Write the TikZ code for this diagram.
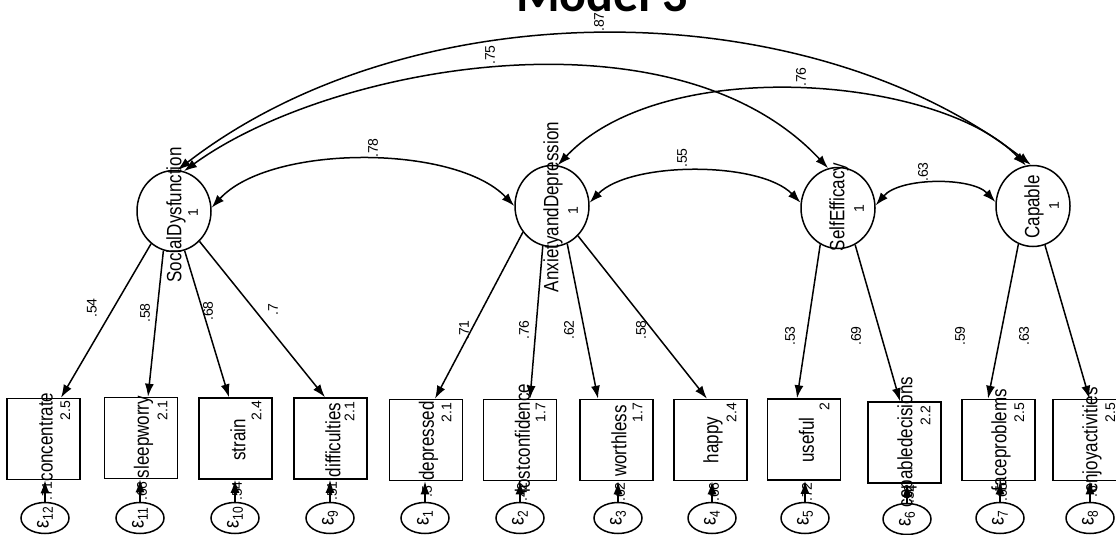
\documentclass[tikz,border=0pt]{standalone}
\usepackage{fontspec}
\usepackage{graphicx}
\setmainfont{Liberation Sans}
\newfontfamily\titlefont{Carlito}
\usetikzlibrary{arrows.meta,shapes.geometric}

\newcommand{\stt}[1]{\scalebox{1}[1.22]{#1}}
\newcommand{\epsl}[1]{\rotatebox{90}{\scalebox{1}[1.2]{\fontsize{18}{18}\selectfont ε\raisebox{-3.5pt}{\fontsize{12}{12}\selectfont #1}}}}

\tikzset{
 lat/.style={draw, ellipse, minimum width=74pt, minimum height=81pt, inner sep=0pt},
 obs/.style={draw, rectangle, minimum width=73pt, minimum height=81pt, inner sep=0pt},
 err/.style={draw, ellipse, minimum width=48pt, minimum height=31pt, inner sep=0pt},
 lbl/.style={rotate=90, inner sep=0pt, font=\fontsize{17}{17}\selectfont},
 num/.style={rotate=90, inner sep=0pt, font=\fontsize{14}{14}\selectfont},
 coef/.style={rotate=90, inner sep=0pt, font=\fontsize{14}{14}\selectfont},
 load/.style={-{Latex[length=13pt,width=9pt]}},
 cov/.style={{Latex[length=13pt,width=9pt]}-{Latex[length=13pt,width=9pt]}},
}

\begin{document}
\begin{tikzpicture}[x=1pt,y=-1pt,line width=1.5pt]
\useasboundingbox (0,0) rectangle (1116,535);
\clip (0,0) rectangle (1116,535);

% title
\node[font=\titlefont\bfseries\fontsize{50}{50}\selectfont, anchor=base, inner sep=0pt] (title) at (602,12) {Model 3};

% latent variables
\node[lat] (SD) at (174,211) {};
\node[lat] (AD) at (552,206) {};
\node[lat] (SE) at (838,208) {};
\node[lat] (CP) at (1033,206) {};

\node[lbl] (SDl) at (176,215) {\stt{SocialDysfunction}};
\node[num] (SDv) at (193,213) {1};
\node[lbl] (ADl) at (553,207) {\stt{AnxietyandDepression}};
\node[num] (ADv) at (573,211) {1};
\node[lbl] (SEl) at (839,207) {\stt{SelfEfficacy}};
\node[num] (SEv) at (859,209) {1};
\node[lbl] (CPl) at (1034,207) {\stt{Capable}};
\node[num] (CPv) at (1054,206) {1};

% observed variables
\node[obs] (o1) at (43.5,439) {};
\node[obs] (o2) at (141,438) {};
\node[obs] (o3) at (235.5,438.5) {};
\node[obs] (o4) at (330.5,438.5) {};
\node[obs] (o5) at (426,440) {};
\node[obs] (o6) at (520,440) {};
\node[obs] (o7) at (616.5,440) {};
\node[obs] (o8) at (710.5,440) {};
\node[obs] (o9) at (804,439.5) {};
\node[obs] (o10) at (904.5,442.5) {};
\node[obs] (o11) at (998.5,440) {};
\node[obs] (o12) at (1089.5,440) {};

\node[lbl] (o1l) at (46,437) {\stt{concentrate}};
\node[lbl] (o2l) at (143.5,437) {\stt{sleepworry}};
\node[lbl] (o3l) at (238,440) {\stt{strain}};
\node[lbl] (o4l) at (333,440) {\stt{difficulties}};
\node[lbl] (o5l) at (428.5,441) {\stt{depressed}};
\node[lbl] (o6l) at (522.5,438) {\stt{lostconfidence}};
\node[lbl] (o7l) at (619,441) {\stt{worthless}};
\node[lbl] (o8l) at (713,440) {\stt{happy}};
\node[lbl] (o9l) at (806.5,440) {\stt{useful}};
\node[lbl] (o10l) at (907,442) {\stt{capabledecisions}};
\node[lbl] (o11l) at (1001,440) {\stt{faceproblems}};
\node[lbl] (o12l) at (1092,440) {\stt{enjoyactivities}};

\node[num, anchor=south east] (o1v) at (71,400) {2.5};
\node[num, anchor=south east] (o2v) at (168,400) {2.1};
\node[num, anchor=south east] (o3v) at (262,400) {2.4};
\node[num, anchor=south east] (o4v) at (355,401) {2.1};
\node[num, anchor=south east] (o5v) at (452,402) {2.1};
\node[num, anchor=south east] (o6v) at (546,402) {1.7};
\node[num, anchor=south east] (o7v) at (643,402) {1.7};
\node[num, anchor=south east] (o8v) at (737,402) {2.4};
\node[num, anchor=south east] (o9v) at (830,402) {2};
\node[num, anchor=south east] (o10v) at (931,405) {2.2};
\node[num, anchor=south east] (o11v) at (1025,402) {2.5};
\node[num, anchor=south east] (o12v) at (1116,402) {2.5};

% error terms
\node[err] (e12) at (45,518) {\epsl{12}};
\node[err] (e11) at (140,518) {\epsl{11}};
\node[err] (e10) at (235,518) {\epsl{10}};
\node[err] (e9) at (330,518) {\epsl{9}};
\node[err] (e1) at (425,518) {\epsl{1}};
\node[err] (e2) at (520,518) {\epsl{2}};
\node[err] (e3) at (618,518) {\epsl{3}};
\node[err] (e4) at (712,518) {\epsl{4}};
\node[err] (e5) at (805,518) {\epsl{5}};
\node[err] (e6) at (907,519) {\epsl{6}};
\node[err] (e7) at (1000,518) {\epsl{7}};
\node[err] (e8) at (1090,518) {\epsl{8}};

\draw[load] (e12.north) -- (e12.north |- o1.south);
\draw[load] (e11.north) -- (e11.north |- o2.south);
\draw[load] (e10.north) -- (e10.north |- o3.south);
\draw[load] (e9.north) -- (e9.north |- o4.south);
\draw[load] (e1.north) -- (e1.north |- o5.south);
\draw[load] (e2.north) -- (e2.north |- o6.south);
\draw[load] (e3.north) -- (e3.north |- o7.south);
\draw[load] (e4.north) -- (e4.north |- o8.south);
\draw[load] (e5.north) -- (e5.north |- o9.south);
\draw[load] (e6.north) -- (e6.north |- o10.south);
\draw[load] (e7.north) -- (e7.north |- o11.south);
\draw[load] (e8.north) -- (e8.north |- o12.south);

\node[coef] at (47,491) {.71};
\node[coef] at (142,491) {.66};
\node[coef] at (237,491) {.54};
\node[coef] at (332,491) {.51};
\node[coef] at (427,492) {.5};
\node[coef] at (522,492) {.42};
\node[coef] at (620,492) {.62};
\node[coef] at (714,492) {.66};
\node[coef] at (807,492) {.72};
\node[coef] at (909,494) {.52};
\node[coef] at (1002,492) {.65};
\node[coef] at (1092,492) {.6};

% loadings
\draw[load] (SD.235) -- ([xshift=17.5pt]o1.north);
\draw[load] (SD.255) -- ([xshift=7pt]o2.north);
\draw[load] (SD.285) -- ([xshift=-6.5pt]o3.north);
\draw[load] (SD.310) -- ([xshift=-5.5pt]o4.north);
\draw[load] (AD.222) -- ([xshift=9pt]o5.north);
\draw[load] (AD.257) -- ([xshift=10pt]o6.north);
\draw[load] (AD.292) -- ([xshift=-18.5pt]o7.north);
\draw[load] (AD.311) -- ([xshift=-3.5pt]o8.north);
\draw[load] (SE.244) -- ([xshift=-7pt]o9.north);
\draw[load] (SE.295) -- ([xshift=-4.5pt]o10.north);
\draw[load] (CP.249) -- ([xshift=-10.5pt]o11.north);
\draw[load] (CP.287) -- ([xshift=0pt]o12.north);

\node[coef] at (92,308) {.54};
\node[coef] at (145,313) {.58};
\node[coef] at (208,311) {.68};
\node[coef] at (273,310) {.7};
\node[coef] at (464,330) {.71};
\node[coef] at (524,330) {.76};
\node[coef] at (569,330) {.62};
\node[coef] at (641,330) {.58};
\node[coef] at (790,336) {.53};
\node[coef] at (856,336) {.69};
\node[coef] at (960,336) {.59};
\node[coef] at (1024,336) {.63};

% covariances
\draw[cov] (SD.5) .. controls (270,144) and (455,144) .. (AD.180);
\draw[cov] (AD.5) .. controls (630,161) and (760,161) .. (SE.172);
\draw[cov] (SE.4) .. controls (900,177) and (972,177) .. (CP.174);
\draw[cov] (SD.76) .. controls (330,65) and (674,3) .. (SE.104);
\draw[cov] (SD.85) .. controls (415,-13) and (808,-8) .. (CP.93);
\draw[cov] (AD.82) .. controls (665,52) and (942,77) .. (CP.100);

\node[coef] at (373,148) {.78};
\node[coef] at (682,158) {.55};
\node[coef] at (923,172) {.63};
\node[coef] at (490,55) {.75};
\node[coef] at (599,22) {.87};
\node[coef] at (801,77) {.76};
\end{tikzpicture}
\end{document}
